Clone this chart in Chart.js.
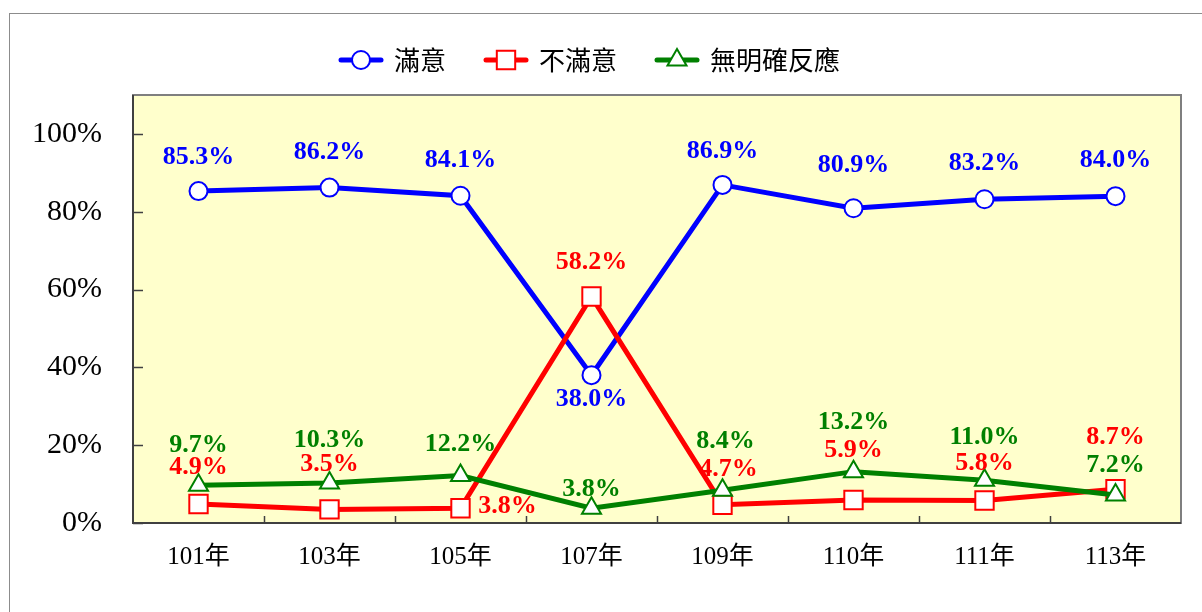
<!DOCTYPE html>
<html>
<head>
<meta charset="utf-8">
<script src="https://cdn.jsdelivr.net/npm/chart.js@4.4.1/dist/chart.umd.min.js"></script>
<style>
  body { margin: 0; background: #fff; overflow: hidden; }
  #wrap { position: relative; width: 1202px; height: 612px; }
  #frame { position: absolute; left: 9px; top: 13px; width: 1300px; height: 700px; border: 1px solid #8c8c8c; }
  #chart { position: absolute; left: 0; top: 0; }
</style>
</head>
<body>
<div id="wrap">
  <div id="frame"></div>
  <canvas id="chart" width="1202" height="612"></canvas>
</div>
<script>
const years = ["101年", "103年", "105年", "107年", "109年", "110年", "111年", "113年"];
const satisfied = [85.3, 86.2, 84.1, 38.0, 86.9, 80.9, 83.2, 84.0];
const unsatisfied = [4.9, 3.5, 3.8, 58.2, 4.7, 5.9, 5.8, 8.7];
const noAnswer = [9.7, 10.3, 12.2, 3.8, 8.4, 13.2, 11.0, 7.2];
const yTicks = [0, 20, 40, 60, 80, 100];

// where each value label sits relative to its point (dx, dy)
const labelOffsets = {
  satisfied: [[0, -34], [0, -35], [0, -35], [0, 24], [0, -34], [0, -43], [0, -36], [0, -36]],
  unsatisfied: [[0, -37], [0, -45], [47, -2], [0, -34], [6, -35], [0, -50], [0, -37], [0, -52]],
  noAnswer: [[0, -40], [0, -43], [0, -31], [0, -19], [3, -49], [0, -49], [0, -43], [0, -30]],
};

const el = (id) => document.getElementById(id);
const serif = "'Liberation Serif', 'Times New Roman', 'Noto Sans CJK TC', serif";

function legendIcon(color, style, radius) {
  const c = document.createElement("canvas");
  c.width = 46;
  c.height = 26;
  const ctx = c.getContext("2d");
  ctx.strokeStyle = color;
  ctx.lineWidth = 5;
  ctx.lineCap = "round";
  ctx.beginPath();
  ctx.moveTo(3, 13);
  ctx.lineTo(43, 13);
  ctx.stroke();
  ctx.fillStyle = "#fff";
  ctx.lineWidth = 2;
  Chart.helpers.drawPoint(ctx, { pointStyle: style, radius, borderWidth: 2, rotation: 0 }, 23, 13);
  return c;
}

const icons = [
  legendIcon("#0000ff", "circle", 9),
  legendIcon("#ff0000", "rect", 13),
  legendIcon("#008000", "triangle", 11),
];

const plotFrame = {
  id: "plotFrame",
  beforeDraw(chart) {
    const { ctx, chartArea: a } = chart;
    ctx.save();
    ctx.fillStyle = "#ffffcc";
    ctx.fillRect(a.left, a.top, a.right - a.left, a.bottom - a.top);
    ctx.restore();
  },
  beforeDatasetsDraw(chart) {
    const { ctx, chartArea: a, scales } = chart;
    ctx.save();
    ctx.strokeStyle = "#7f7f7f";
    ctx.lineWidth = 2;
    ctx.strokeRect(a.left, a.top, a.right - a.left, a.bottom - a.top);
    ctx.strokeStyle = "#404040";
    ctx.beginPath();
    ctx.moveTo(a.left, a.top);
    ctx.lineTo(a.left, a.bottom);
    ctx.lineTo(a.right, a.bottom);
    ctx.stroke();
    // short inward ticks
    ctx.lineWidth = 1.5;
    ctx.beginPath();
    yTicks.forEach((v) => {
      const y = Math.round(scales.y.getPixelForValue(v)) + 0.5;
      ctx.moveTo(a.left, y);
      ctx.lineTo(a.left + 10, y);
    });
    for (let i = 1; i < years.length; i++) {
      const x = Math.round((scales.x.getPixelForValue(i - 1) + scales.x.getPixelForValue(i)) / 2) + 0.5;
      ctx.moveTo(x, a.bottom);
      ctx.lineTo(x, a.bottom - 7);
    }
    ctx.stroke();
    ctx.restore();
  },
};

const valueLabels = {
  id: "valueLabels",
  afterDatasetsDraw(chart) {
    const ctx = chart.ctx;
    ctx.save();
    ctx.font = "bold 26px " + serif;
    ctx.textAlign = "center";
    ctx.textBaseline = "middle";
    chart.data.datasets.forEach((ds, i) => {
      const meta = chart.getDatasetMeta(i);
      meta.data.forEach((pt, j) => {
        const [dx, dy] = ds.labelOffsets[j];
        ctx.fillStyle = ds.borderColor;
        ctx.fillText(ds.data[j].toFixed(1) + "%", pt.x + dx, pt.y + dy);
      });
    });
    ctx.restore();
  },
};

// legend keeps the band above the plot area
const legendBand = {
  id: "legendBand",
  afterInit(chart) {
    const fit = chart.legend.fit;
    chart.legend.fit = function () {
      fit.call(this);
      this.height = 88;
    };
  },
};

function series(label, data, color, style, radius, order, offsets) {
  return {
    label,
    data,
    borderColor: color,
    backgroundColor: color,
    borderWidth: 5,
    tension: 0,
    pointStyle: style,
    pointRadius: radius,
    pointBorderWidth: 2,
    pointBorderColor: color,
    pointBackgroundColor: "#fff",
    order,
    labelOffsets: offsets,
  };
}

new Chart(el("chart"), {
  type: "line",
  data: {
    labels: years,
    datasets: [
      series("滿意", satisfied, "#0000ff", "circle", 9, 3, labelOffsets.satisfied),
      series("不滿意", unsatisfied, "#ff0000", "rect", 13, 2, labelOffsets.unsatisfied),
      series("無明確反應", noAnswer, "#008000", "triangle", 11, 1, labelOffsets.noAnswer),
    ],
  },
  options: {
    responsive: false,
    animation: false,
    events: [],
    layout: { padding: { left: 0, right: 21, top: 7, bottom: 0 } },
    scales: {
      x: {
        offset: true,
        grid: { display: false, drawTicks: false },
        border: { display: false },
        ticks: { color: "#000", font: { size: 25, family: serif }, padding: 19 },
        afterFit: (s) => { s.height = 89; },
      },
      y: {
        min: 0,
        max: 110,
        grid: { display: false, drawTicks: false },
        border: { display: false },
        afterBuildTicks: (s) => { s.ticks = yTicks.map((v) => ({ value: v })); },
        ticks: { color: "#000", font: { size: 30, family: serif }, padding: 31, callback: (v) => v + "%" },
        afterFit: (s) => { s.width = 133; },
      },
    },
    plugins: {
      tooltip: { enabled: false },
      legend: {
        position: "top",
        labels: {
          usePointStyle: true,
          pointStyleWidth: 40,
          padding: 40,
          color: "#000",
          font: { size: 26, family: "'Noto Sans CJK TC', sans-serif" },
          generateLabels: (chart) =>
            Chart.defaults.plugins.legend.labels.generateLabels(chart)
              .sort((a, b) => a.datasetIndex - b.datasetIndex)
              .map((item) => ({ ...item, pointStyle: icons[item.datasetIndex] })),
        },
      },
    },
  },
  plugins: [plotFrame, valueLabels, legendBand],
});
</script>
</body>
</html>
